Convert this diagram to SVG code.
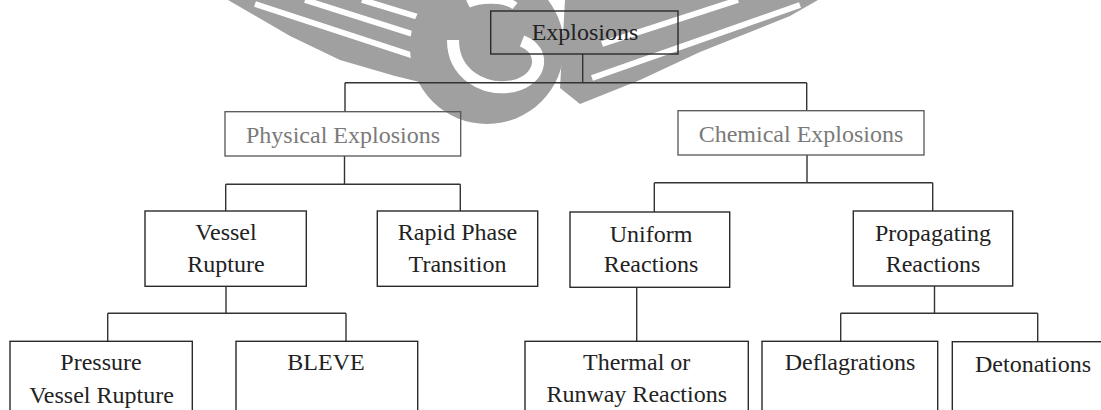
<svg xmlns="http://www.w3.org/2000/svg" width="1101" height="410" viewBox="0 0 1101 410">
<style>
.box{fill:none;stroke:#2a2a2a;stroke-width:1.4}
.gbox{fill:none;stroke:#555;stroke-width:1.3}
.t{font-family:"Liberation Serif","Times New Roman",serif;font-size:24px;fill:#222;text-anchor:middle}
.gt{fill:#7a7a7a}
.ln{fill:none;stroke:#333;stroke-width:1.4}
.wm{fill:#a0a0a0}
</style>
<rect width="1101" height="410" fill="#fff"/>
<g id="watermark">
<path class="wm" d="M228,0 L430,0 L432,85 L395,76 L340,60 L290,36 Z"/>
<path d="M255,4 L420,58 M305,0 L425,38 M362,0 L428,20" stroke="#fff" stroke-width="6" fill="none"/>
<circle class="wm" cx="487" cy="47" r="77"/>
<path d="M453,40 C453,73 482,92 514,86 C543,79 546,50 522,41" stroke="#fff" stroke-width="12" fill="none"/>
<path d="M468,4 C480,-2 505,-2 515,6" stroke="#fff" stroke-width="8" fill="none"/>
<path class="wm" d="M565,0 L818,0 L790,16 L700,52 L640,80 L580,104 L560,88 Z"/>
<path d="M592,78 L800,5 M602,44 L738,0" stroke="#fff" stroke-width="6" fill="none"/>
</g>
<g id="connectors">
<path class="ln" d="M582.7,54 V82.7 M345,82.7 H806.7 M345,82.7 V111.7 M806.7,82.7 V110.7"/>
<path class="ln" d="M344.5,156 V184.3 M225.7,184.3 H460.3 M225.7,184.3 V211 M460.3,184.3 V211"/>
<path class="ln" d="M807,155 V182.7 M654.3,182.7 H932.7 M654.3,182.7 V212 M932.7,182.7 V211"/>
<path class="ln" d="M226,286.3 V313.3 M107.7,313.3 H346 M107.7,313.3 V341.3 M346,313.3 V341.3"/>
<path class="ln" d="M636.7,287.3 V341.3"/>
<path class="ln" d="M934.5,286 V313.3 M840.7,313.3 H1037.7 M840.7,313.3 V341.5 M1037.7,313.3 V341.7"/>
</g>
<g id="n-explosions">
<rect class="box" x="490.7" y="11" width="187.3" height="43"/>
<text class="t" x="585" y="40">Explosions</text>
</g>
<g id="n-physical">
<rect class="gbox" x="225" y="111.7" width="235.7" height="44.3"/>
<text class="t gt" x="343" y="142.7">Physical Explosions</text>
</g>
<g id="n-chemical">
<rect class="gbox" x="678" y="110.7" width="246" height="44.3"/>
<text class="t gt" x="801" y="141.7">Chemical Explosions</text>
</g>
<g id="n-vessel">
<rect class="box" x="145" y="211" width="161.3" height="75.3"/>
<text class="t" x="226" y="240">Vessel</text>
<text class="t" x="226" y="271.7">Rupture</text>
</g>
<g id="n-rapid">
<rect class="box" x="377.3" y="211" width="160.4" height="75.3"/>
<text class="t" x="457.5" y="240">Rapid Phase</text>
<text class="t" x="457.5" y="271.7">Transition</text>
</g>
<g id="n-uniform">
<rect class="box" x="570" y="212" width="159.7" height="75.3"/>
<text class="t" x="651" y="241.7">Uniform</text>
<text class="t" x="651" y="271.7">Reactions</text>
</g>
<g id="n-propagating">
<rect class="box" x="853.3" y="211" width="159.4" height="75"/>
<text class="t" x="933" y="241">Propagating</text>
<text class="t" x="933" y="271.7">Reactions</text>
</g>
<g id="n-pressure">
<rect class="box" x="10" y="341.3" width="182.3" height="80"/>
<text class="t" x="101" y="370">Pressure</text>
<text class="t" x="101.5" y="402.7">Vessel Rupture</text>
</g>
<g id="n-bleve">
<rect class="box" x="236" y="341.3" width="181.7" height="80"/>
<text class="t" x="326" y="370">BLEVE</text>
</g>
<g id="n-thermal">
<rect class="box" x="525" y="341.3" width="223.3" height="80"/>
<text class="t" x="636.7" y="370">Thermal or</text>
<text class="t" x="636.7" y="401.7">Runway Reactions</text>
</g>
<g id="n-deflagrations">
<rect class="box" x="762" y="341.3" width="175.7" height="80"/>
<text class="t" x="850" y="370">Deflagrations</text>
</g>
<g id="n-detonations">
<rect class="box" x="952.3" y="341.7" width="160" height="80"/>
<text class="t" x="1033" y="371.7">Detonations</text>
</g>
</svg>
